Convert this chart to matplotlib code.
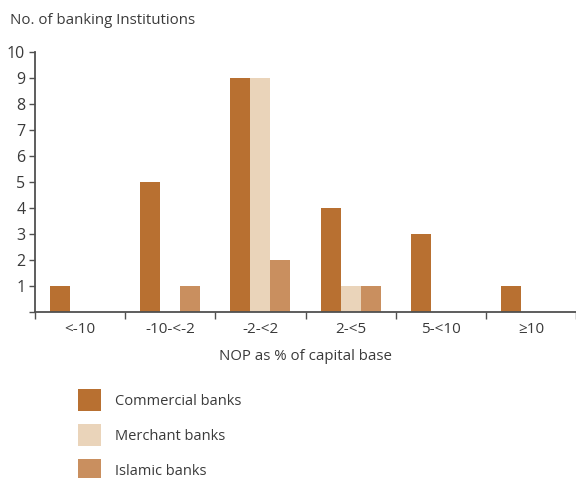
import numpy as np
import matplotlib.pyplot as plt
from matplotlib.patches import Patch

plt.rcParams['font.family'] = ['Open Sans', 'DejaVu Sans']
plt.rcParams['text.color'] = '#3a3a3a'

categories = ['<-10', '-10-<-2', '-2-<2', '2-<5', '5-<10', '≥10']
commercial = [1, 5, 9, 4, 3, 1]
merchant = [0, 0, 9, 1, 0, 0]
islamic = [0, 1, 2, 1, 0, 0]

series_names = ['Commercial banks', 'Merchant banks', 'Islamic banks']
colors = ['#B87031', '#EAD4BA', '#C98F5F']

fig = plt.figure(figsize=(5.76, 4.78), dpi=100)
ax = fig.add_axes([35 / 576, 1 - 312 / 478, 541 / 576, 260 / 478])

x = np.arange(len(categories)) + 0.5
w = 0.222
for i, (vals, c) in enumerate(zip([commercial, merchant, islamic], colors)):
    ax.bar(x + (i - 1) * w, vals, width=w, color=c, zorder=2)

ax.set_xlim(0, 6)
ax.set_ylim(0, 10)

for s in ['top', 'right']:
    ax.spines[s].set_visible(False)
for s in ['left', 'bottom']:
    ax.spines[s].set_color('#505050')
    ax.spines[s].set_linewidth(1.3)
    ax.spines[s].set_zorder(3)

ax.set_yticks(range(0, 11))
ax.set_yticklabels([''] + [str(v) for v in range(1, 11)])
ax.tick_params(axis='y', length=4, width=1, color='#505050', labelsize=11.5,
               labelcolor='#3a3a3a', pad=3)

ax.set_xticks(range(0, 7))
ax.set_xticklabels([])
ax.set_xticks(x, minor=True)
ax.set_xticklabels(categories, minor=True)
ax.tick_params(axis='x', which='major', length=5, width=1, color='#505050')
ax.tick_params(axis='x', which='minor', length=0, labelsize=11,
               labelcolor='#3a3a3a', pad=7)

fig.text(10 / 576, 1 - 20 / 478, 'No. of banking Institutions', fontsize=10.8,
         va='center', ha='left')
fig.text(305 / 576, 1 - 357 / 478, 'NOP as % of capital base', fontsize=10.8,
         va='center', ha='center')

handles = [Patch(facecolor=c, edgecolor='none') for c in colors]
fig.legend(handles, series_names, loc='upper left',
           bbox_to_anchor=(65 / 576, 1 - 376 / 478), frameon=False,
           fontsize=10.5, handlelength=1.6, handleheight=1.9,
           labelspacing=0.93, handletextpad=0.9)

fig.savefig('out.png', dpi=100)
